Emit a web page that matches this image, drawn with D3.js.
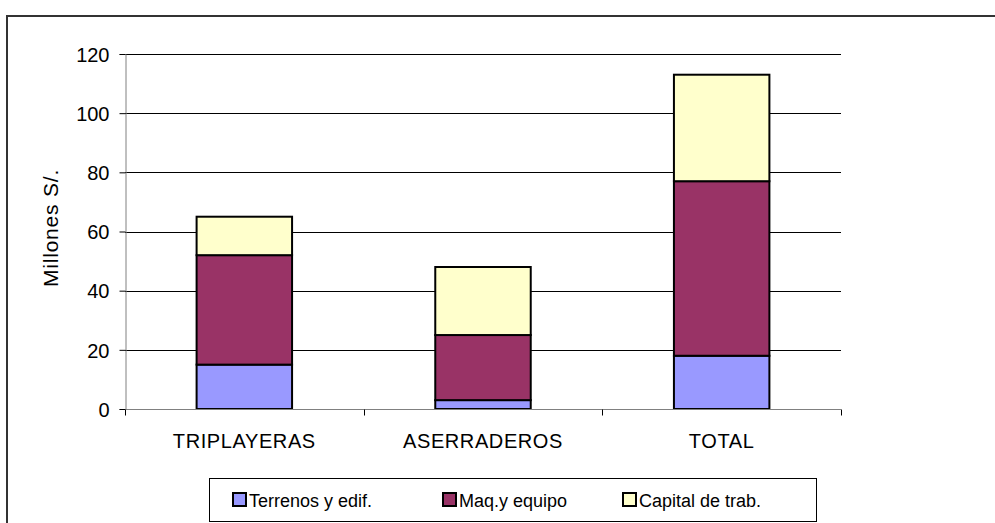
<!DOCTYPE html>
<html><head><meta charset="utf-8">
<script src="https://cdn.jsdelivr.net/npm/d3@7"></script>
<style>body{margin:0;background:#fff}svg{display:block}text{font-family:"Liberation Sans",Arial,sans-serif;fill:#000}</style>
</head><body>
<svg id="c" width="995" height="523"></svg>
<script>
const categories = ["TRIPLAYERAS", "ASERRADEROS", "TOTAL"];
const seriesNames = ["Terrenos y edif.", "Maq.y equipo", "Capital de trab."];
const terrenos = [15, 3, 18];
const maquinaria = [37, 22, 59];
const capital = [13, 23, 36];
const colors = ["#9999FF", "#993366", "#FFFFCC"];
const yTicks = [0, 20, 40, 60, 80, 100, 120];

const svg = d3.select("#c");
const FONT = '"Liberation Sans",Arial,sans-serif';
// outer chart border
svg.append("rect").attr("x", 7).attr("y", 16).attr("width", 1000).attr("height", 520)
  .attr("fill", "none").attr("stroke", "#333").attr("stroke-width", 2);

const L = 125, R = 841, T = 54, B = 409;
const x = d3.scaleBand().domain(categories).range([L, R]).paddingInner(0.6).paddingOuter(0.3);
const y = d3.scaleLinear().domain([0, 120]).range([B, T]);

// gridlines
svg.append("g").selectAll("line").data(yTicks.filter(d => d > 0)).join("line")
  .attr("x1", L).attr("x2", R).attr("y1", d => Math.round(y(d)) + 0.5).attr("y2", d => Math.round(y(d)) + 0.5)
  .attr("stroke", "#000").attr("stroke-width", 1);

const rows = categories.map((c, i) => ({cat: c, s0: terrenos[i], s1: maquinaria[i], s2: capital[i]}));
const stack = d3.stack().keys(["s0", "s1", "s2"])(rows);

svg.append("g").selectAll("g").data(stack).join("g").attr("fill", (d, i) => colors[i])
  .selectAll("rect").data(d => d).join("rect")
  .attr("x", d => x(d.data.cat)).attr("width", x.bandwidth())
  .attr("y", d => y(d[1])).attr("height", d => y(d[0]) - y(d[1]))
  .attr("stroke", "#000").attr("stroke-width", 2);

// y axis
const yAxis = svg.append("g").attr("transform", `translate(${L + 0.5},0)`)
  .call(d3.axisLeft(y).tickValues(yTicks).tickSize(6).tickPadding(10));
yAxis.attr("font-family", FONT).attr("font-size", 20);
yAxis.select(".domain").attr("stroke", "#808080");
yAxis.selectAll(".tick line").attr("stroke", "#000");
yAxis.selectAll("text").attr("dy", "0.36em");

// x axis
const step = (R - L) / categories.length;
const xAxis = svg.append("g").attr("transform", `translate(0,${B + 0.5})`);
xAxis.append("line").attr("x1", L).attr("x2", R).attr("stroke", "#808080");
xAxis.selectAll(".xt").data(d3.range(categories.length + 1)).join("line")
  .attr("x1", i => Math.round(L + i * step) + 0.5).attr("x2", i => Math.round(L + i * step) + 0.5)
  .attr("y1", 0).attr("y2", 6).attr("stroke", "#000");
xAxis.selectAll(".xl").data(categories).join("text")
  .attr("x", d => x(d) + x.bandwidth() / 2).attr("y", 38)
  .attr("text-anchor", "middle").style("font-size", "20px").style("letter-spacing", "0.6px").text(d => d);

// y label
svg.append("text").attr("transform", "translate(58,228) rotate(-90)")
  .attr("text-anchor", "middle").style("font-size", "21px").style("letter-spacing", "0.8px").text("Millones S/.");

// legend
const lg = svg.append("g");
lg.append("rect").attr("x", 209.5).attr("y", 478.5).attr("width", 607).attr("height", 43)
  .attr("fill", "#fff").attr("stroke", "#000").attr("stroke-width", 1);
const legX = [233, 443, 623];
seriesNames.forEach((n, i) => {
  lg.append("rect").attr("x", legX[i]).attr("y", 493).attr("width", 13).attr("height", 13)
    .attr("fill", colors[i]).attr("stroke", "#000").attr("stroke-width", 2);
  lg.append("text").attr("x", legX[i] + 16).attr("y", 507).style("font-size", "18px").text(n);
});
</script>
</body></html>
